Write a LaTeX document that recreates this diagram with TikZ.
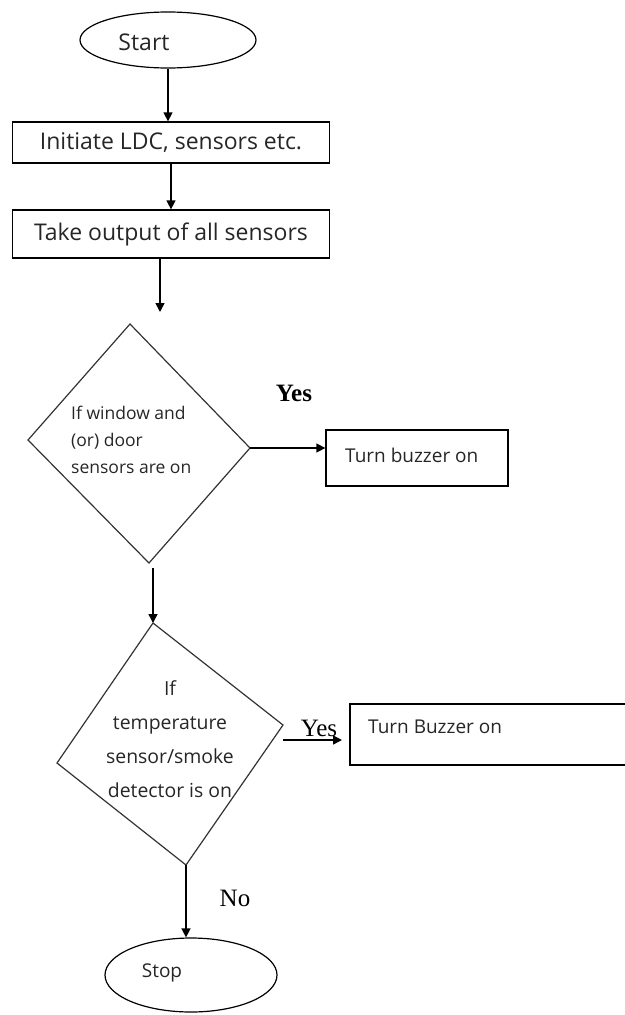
\documentclass[tikz,border=0pt]{standalone}
\usepackage{fontspec}
\setmainfont{Open Sans}
\newfontfamily\serffont{Liberation Serif}
\usetikzlibrary{shapes.geometric, arrows.meta}

\tikzset{
  flow/.style={-{Triangle[length=9pt,width=9pt]},line width=1.4pt},
  stepbox/.style={draw,line width=1.3pt,rectangle,inner sep=0pt},
  term/.style={draw,line width=1.2pt,ellipse,inner sep=0pt},
  lbl/.style={font=\fontsize{23}{26}\selectfont,text=black!85,inner sep=0pt},
  lblsm/.style={font=\fontsize{19}{22}\selectfont,text=black!85,inner sep=0pt},
  ask/.style={font=\fontsize{17.5}{27}\selectfont,text=black!85,inner sep=0pt},
  ans/.style={font=\serffont\fontsize{25}{27}\selectfont,inner sep=0pt}
}

\begin{document}
\begin{tikzpicture}[x=1pt,y=-1pt]
\useasboundingbox (0,0) rectangle (624,1015);

% start and first steps
\node[term,minimum width=176pt,minimum height=56pt] (start) at (168,40) {};
\node[lbl] (startlbl) at (144,42) {Start};
\node[stepbox,lbl,minimum width=317pt,minimum height=41pt] (init) at (171,142.5) {Initiate LDC, sensors etc.};
\node[stepbox,lbl,minimum width=317pt,minimum height=48pt] (take) at (171,234) {Take output of all sensors};
\draw[flow] (start.south) -- (start.south |- init.north);
\draw[flow] (init.south) -- (take.north);
\coordinate (in1) at (160,312);
\draw[flow] (take.south -| in1) -- (in1);

% window / door check
\coordinate (w1t) at (130,324);
\coordinate (w1r) at (250,448);
\coordinate (w1b) at (149,563);
\coordinate (w1l) at (28,440);
\draw[line width=1.2pt,black!80] (w1t) -- (w1r) -- (w1b) -- (w1l) -- cycle;
\node[ask,anchor=west,align=left] (w1txt) at (71,440) {If window and\\(or) door\\sensors are on};
\node[stepbox,minimum width=182pt,minimum height=56pt] (buzz1) at (417,458) {};
\node[lblsm,anchor=west] (buzz1lbl) at (345,455) {Turn buzzer on};
\draw[flow] (w1r) -- (w1r -| buzz1.west);
\node[ans,font=\serffont\bfseries\fontsize{25}{27}\selectfont] (yes1) at (294,393) {Yes};

% temperature / smoke check
\coordinate (w1out) at (153,568);
\coordinate (t2t) at (153,623);
\coordinate (t2r) at (283,725);
\coordinate (t2b) at (186,865);
\coordinate (t2l) at (57,763);
\draw[flow] (w1out) -- (t2t);
\draw[line width=1.2pt,black!80] (t2t) -- (t2r) -- (t2b) -- (t2l) -- cycle;
\node[ask,align=center,font=\fontsize{19.4}{34}\selectfont] (t2txt) at (170,739) {If\\temperature\\sensor/smoke\\detector is on};
\node[stepbox,minimum width=280pt,minimum height=61pt] (buzz2) at (490,734.5) {};
\node[lblsm,anchor=west] (buzz2lbl) at (368,727) {Turn Buzzer on};
\coordinate (t2out) at (283,740);
\coordinate (t2end) at (342,740);
\draw[flow] (t2out) -- (t2end);
\node[ans] (yes2) at (319,728) {Yes};

% stop
\node[term,minimum width=172pt,minimum height=74pt] (stop) at (191,975) {};
\node[lblsm] (stoplbl) at (162,973) {Stop};
\draw[flow] (t2b) -- (t2b |- stop.north);
\node[ans] (no) at (235,898) {No};
\end{tikzpicture}
\end{document}
